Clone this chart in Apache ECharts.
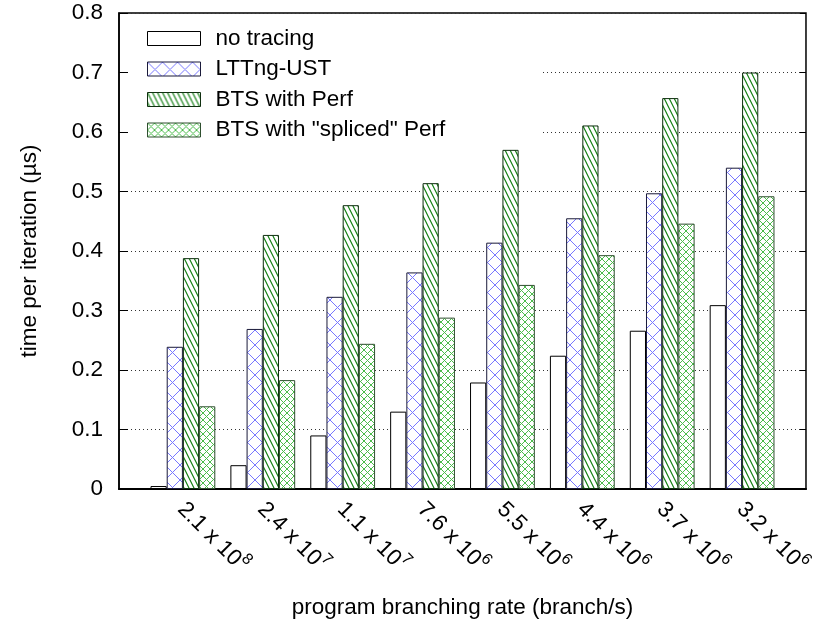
<!DOCTYPE html>
<html>
<head>
<meta charset="utf-8">
<script src="https://cdn.jsdelivr.net/npm/echarts@6/dist/echarts.min.js"></script>
<style>html,body{margin:0;padding:0;background:#fff}#c{width:817px;height:624px}</style>
</head>
<body>
<div id="c"></div>
<script>
// ---- data ----
const rateMantissa = ['2.1', '2.4', '1.1', '7.6', '5.5', '4.4', '3.7', '3.2'];
const rateExponent = ['8', '7', '7', '6', '6', '6', '6', '6'];
const seriesNames = ['no tracing', 'LTTng-UST', 'BTS with Perf', 'BTS with "spliced" Perf'];
const noTracing  = [0.005, 0.040, 0.090, 0.130, 0.179, 0.224, 0.266, 0.309];
const lttngUst   = [0.239, 0.269, 0.323, 0.364, 0.414, 0.455, 0.497, 0.540];
const btsPerf    = [0.388, 0.427, 0.477, 0.514, 0.570, 0.611, 0.657, 0.700];
const btsSpliced = [0.139, 0.183, 0.244, 0.288, 0.343, 0.393, 0.446, 0.492];
const yTicks = [0, 0.1, 0.2, 0.3, 0.4, 0.5, 0.6, 0.7, 0.8];

// ---- fill patterns ----
function makePattern(w, h, color, lw, drawFn) {
  const c = document.createElement('canvas');
  c.width = w; c.height = h;
  const g = c.getContext('2d');
  g.fillStyle = '#ffffff';
  g.fillRect(0, 0, w, h);
  g.strokeStyle = color;
  g.lineWidth = lw;
  g.beginPath();
  drawFn(g, w, h);
  g.stroke();
  return { image: c, repeat: 'repeat' };
}
function crossDraw(g, w, h) {
  g.moveTo(-2, -2 * h / w); g.lineTo(w + 2, h + 2 * h / w);
  g.moveTo(w + 2, -2 * h / w); g.lineTo(-2, h + 2 * h / w);
}
function backDraw(g, w, h) {
  for (let k = -1; k <= 1; k++) {
    g.moveTo(k * w - w, -h); g.lineTo(k * w + 2 * w, 2 * h);
  }
}
const patWhite = '#ffffff';
const patBlue = makePattern(15, 15, '#7878ff', 1, crossDraw);
const patGreenLines = makePattern(5, 10, '#128012', 1.2, backDraw);
const patGreenCross = makePattern(7, 7, '#4cbc4c', 1, crossDraw);

const seriesData = [noTracing, lttngUst, btsPerf, btsSpliced];
const fills = [patWhite, patBlue, patGreenLines, patGreenCross];
const borders = ['#000000', '#1a1a3a', '#0f2f0f', '#2f4f2f'];

const FONT = 'Liberation Sans';
const FS = 22.5;

const chart = echarts.init(document.getElementById('c'), null, { renderer: 'canvas' });
chart.setOption({
  animation: false,
  backgroundColor: '#ffffff',
  textStyle: { fontFamily: FONT, color: '#000' },
  grid: { left: 119, right: 4, top: 13, bottom: 132, show: true, borderColor: '#000', borderWidth: 1.5, backgroundColor: 'transparent' },
  graphic: [{
    type: 'rect', z: 1, silent: true,
    shape: { x: 129, y: 14, width: 412, height: 138 },
    style: { fill: '#ffffff' }
  }],
  legend: {
    orient: 'vertical', left: 147, top: 27, z: 10, padding: 0,
    itemWidth: 53, itemHeight: 14, itemGap: 7.5,
    icon: 'rect',
    itemStyle: { borderWidth: 1 },
    textStyle: { fontFamily: FONT, fontSize: FS, color: '#000', lineHeight: 20, padding: [0, 0, 0, 10] },
    data: seriesNames
  },
  xAxis: {
    type: 'value', min: -0.8, max: 7.8,
    name: 'program branching rate (branch/s)',
    nameLocation: 'middle', nameGap: 107,
    nameTextStyle: { fontFamily: FONT, fontSize: FS, color: '#000' },
    axisLine: { show: true, onZero: false, lineStyle: { color: '#000', width: 2 } },
    axisTick: { show: false },
    splitLine: { show: false },
    axisLabel: {
      customValues: rateMantissa.map((_, i) => i),
      rotate: -45, margin: 15,
      fontFamily: FONT, fontSize: FS, color: '#000',
      formatter: function (v) {
        const i = Math.round(v);
        return '{b|' + rateMantissa[i] + ' x 10}{s|' + rateExponent[i] + '}';
      },
      rich: {
        b: { fontFamily: FONT, fontSize: FS, lineHeight: 28, verticalAlign: 'bottom', color: '#000' },
        s: { fontFamily: FONT, fontSize: 16, lineHeight: 16, verticalAlign: 'top', color: '#000' }
      }
    }
  },
  yAxis: [{
    type: 'value', min: 0, max: 0.8, interval: 0.1, position: 'left', z: 0,
    name: 'time per iteration (µs)',
    nameLocation: 'middle', nameGap: 78,
    nameTextStyle: { fontFamily: FONT, fontSize: FS, color: '#000' },
    axisLine: { show: true, onZero: false, lineStyle: { color: '#000', width: 1.5 } },
    axisTick: { show: true, inside: true, length: 9, lineStyle: { color: '#000', width: 1 } },
    axisLabel: { margin: 16, fontFamily: FONT, fontSize: FS, color: '#000',
      formatter: v => { const t = yTicks.find(x => Math.abs(x - v) < 1e-6); return t === 0 ? '0' : String(t); } },
    splitLine: { show: true, lineStyle: { color: '#333', width: 1, type: [1, 3] } }
  }, {
    type: 'value', min: 0, max: 0.8, interval: 0.1, position: 'right', z: 0,
    axisLine: { show: false, onZero: false },
    axisTick: { show: true, inside: true, length: 6, lineStyle: { color: '#000', width: 1 } },
    axisLabel: { show: false },
    splitLine: { show: false }
  }],
  series: seriesNames.map((name, s) => ({
    name: name,
    type: 'bar',
    z: 2,
    yAxisIndex: 0,
    barWidth: 16.2,
    barGap: '0%',
    itemStyle: { color: fills[s], borderColor: borders[s], borderWidth: 1 },
    data: seriesData[s].map((v, i) => [i, v])
  }))
});
</script>
</body>
</html>
